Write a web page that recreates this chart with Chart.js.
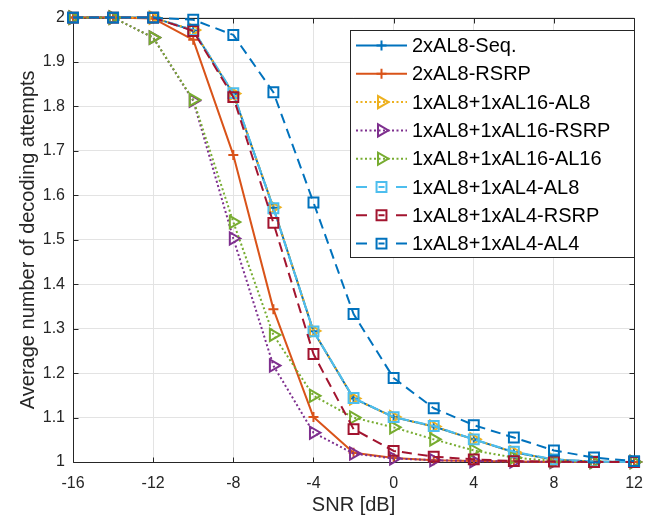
<!DOCTYPE html>
<html>
<head>
<meta charset="utf-8">
<script src="https://cdn.jsdelivr.net/npm/chart.js@4/dist/chart.umd.min.js"></script>
<style>
  html, body { margin: 0; padding: 0; background: #ffffff; }
  #wrap { width: 655px; height: 520px; }
</style>
</head>
<body>
<div id="wrap"><canvas id="c" width="655" height="520"></canvas></div>
<script>
// SNR grid (dB) and average decoding attempts per scheme
const snr = [-16, -14, -12, -10, -8, -6, -4, -2, 0, 2, 4, 6, 8, 10, 12];

const al8Seq      = [2, 2, 2,     1.971, 1.828, 1.572, 1.294, 1.143, 1.101, 1.080, 1.051, 1.022, 1.005, 1.001, 1.000];
const al8Rsrp     = [2, 2, 1.998, 1.950, 1.691, 1.344, 1.101, 1.021, 1.009, 1.004, 1.002, 1.001, 1.000, 1.000, 1.000];
const al16Al8     = [2, 2, 2,     1.972, 1.829, 1.573, 1.295, 1.143, 1.101, 1.080, 1.051, 1.022, 1.005, 1.001, 1.000];
const al16Rsrp    = [2, 2, 1.955, 1.813, 1.503, 1.217, 1.066, 1.019, 1.008, 1.004, 1.002, 1.001, 1.000, 1.000, 1.000];
const al16Al16    = [2, 2, 1.955, 1.815, 1.540, 1.286, 1.149, 1.100, 1.078, 1.051, 1.026, 1.010, 1.002, 1.000, 1.000];
const al4Al8      = [2, 2, 2,     1.972, 1.830, 1.571, 1.294, 1.144, 1.101, 1.081, 1.051, 1.023, 1.006, 1.001, 1.000];
const al4Rsrp     = [2, 2, 2,     1.970, 1.821, 1.538, 1.243, 1.074, 1.025, 1.012, 1.006, 1.002, 1.001, 1.000, 1.000];
const al4Al4      = [2, 2, 2,     1.995, 1.961, 1.832, 1.584, 1.333, 1.189, 1.121, 1.083, 1.055, 1.026, 1.010, 1.002];

const seriesNames = [
  '2xAL8-Seq.', '2xAL8-RSRP',
  '1xAL8+1xAL16-AL8', '1xAL8+1xAL16-RSRP', '1xAL8+1xAL16-AL16',
  '1xAL8+1xAL4-AL8', '1xAL8+1xAL4-RSRP', '1xAL8+1xAL4-AL4'
];
const seriesValues = [al8Seq, al8Rsrp, al16Al8, al16Rsrp, al16Al16, al4Al8, al4Rsrp, al4Al4];

const xTicks = { min: -16, max: 12, step: 4 };
const yTicks = { min: 1, max: 2, step: 0.1 };

// line styles
const SOLID = [], DOTTED = [2, 2.5], DASHED = [10, 6];
const styles = [
  { color: '#0072BD', dash: SOLID,  marker: 'cross',    radius: 5, rot: 0 },
  { color: '#D95319', dash: SOLID,  marker: 'cross',    radius: 5, rot: 0 },
  { color: '#EDB120', dash: DOTTED, marker: 'triangle', radius: 7, rot: 90 },
  { color: '#7E2F8E', dash: DOTTED, marker: 'triangle', radius: 7, rot: 90 },
  { color: '#77AC30', dash: DOTTED, marker: 'triangle', radius: 7, rot: 90 },
  { color: '#4DBEEE', dash: DASHED, marker: 'rect',     radius: 7, rot: 0 },
  { color: '#A2142F', dash: DASHED, marker: 'rect',     radius: 7, rot: 0 },
  { color: '#0072BD', dash: DASHED, marker: 'rect',     radius: 7, rot: 0 }
];

const N = seriesNames.length;
const datasets = seriesNames.map((name, i) => ({
  label: name,
  data: snr.map((x, k) => ({ x: x, y: seriesValues[i][k] })),
  borderColor: styles[i].color,
  backgroundColor: 'rgba(0,0,0,0)',
  borderWidth: 2,
  borderDash: styles[i].dash,
  pointStyle: styles[i].marker,
  pointRadius: styles[i].radius,
  pointRotation: styles[i].rot,
  pointBorderColor: styles[i].color,
  pointBackgroundColor: 'rgba(0,0,0,0)',
  pointBorderWidth: 2,
  pointHoverRadius: styles[i].radius,
  tension: 0,
  fill: false,
  clip: false,
  order: N - i   // later series drawn on top
}));

const AXIS = '#262626';
const FONT = '"Liberation Sans", Arial, Helvetica, sans-serif';

// axis box with inward tick marks, drawn under the data
const boxPlugin = {
  id: 'axisBox',
  beforeDatasetsDraw(chart) {
    const { ctx, chartArea: a, scales } = chart;
    ctx.save();
    ctx.strokeStyle = AXIS;
    ctx.lineWidth = 1;
    ctx.setLineDash([]);
    const L = Math.round(a.left) + 0.5, R = Math.round(a.right) + 0.5;
    const T = Math.round(a.top) + 0.5, B = Math.round(a.bottom) + 0.5;
    ctx.beginPath();
    ctx.rect(L, T, R - L, B - T);
    const tl = 5;
    scales.x.ticks.forEach(t => {
      const px = Math.round(scales.x.getPixelForValue(t.value)) + 0.5;
      ctx.moveTo(px, B); ctx.lineTo(px, B - tl);
      ctx.moveTo(px, T); ctx.lineTo(px, T + tl);
    });
    scales.y.ticks.forEach(t => {
      const py = Math.round(scales.y.getPixelForValue(t.value)) + 0.5;
      ctx.moveTo(L, py); ctx.lineTo(L + tl, py);
      ctx.moveTo(R, py); ctx.lineTo(R - tl, py);
    });
    ctx.stroke();
    ctx.restore();
  }
};

function drawMarker(ctx, st, x, y) {
  const h = Chart.helpers;
  if (h && typeof h.drawPoint === 'function') {
    h.drawPoint(ctx, { pointStyle: st.marker, radius: st.radius, rotation: st.rot, borderWidth: 2 }, x, y);
    return;
  }
  ctx.beginPath();
  ctx.arc(x, y, st.radius * 0.7, 0, Math.PI * 2);
  ctx.stroke();
}

// boxed legend in the upper right
const legendPlugin = {
  id: 'boxLegend',
  afterDraw(chart) {
    const { ctx } = chart;
    const bx = 350.5, by = 30.5, bw = 284, bh = 227;
    const rowY0 = 45.5, rowStep = 28.3;
    const lx0 = 356, lx1 = 407, mx = 381.5, tx = 412;
    ctx.save();
    ctx.fillStyle = '#ffffff';
    ctx.fillRect(bx, by, bw, bh);
    ctx.strokeStyle = AXIS;
    ctx.lineWidth = 1;
    ctx.setLineDash([]);
    ctx.strokeRect(bx, by, bw, bh);
    chart.data.datasets.forEach((ds, i) => {
      const st = styles[i];
      const y = rowY0 + i * rowStep;
      ctx.strokeStyle = st.color;
      ctx.lineWidth = 2;
      if (st.dash === DASHED) {
        ctx.setLineDash([]);
        ctx.beginPath();
        ctx.moveTo(lx0, y); ctx.lineTo(lx0 + 11, y);
        ctx.moveTo(mx - 3, y); ctx.lineTo(mx + 3, y);
        ctx.moveTo(lx1 - 11, y); ctx.lineTo(lx1, y);
        ctx.stroke();
      } else {
        ctx.setLineDash(st.dash);
        ctx.beginPath();
        ctx.moveTo(lx0, y); ctx.lineTo(lx1, y);
        ctx.stroke();
      }
      ctx.setLineDash([]);
      ctx.strokeStyle = st.color;
      ctx.fillStyle = 'rgba(0,0,0,0)';
      ctx.lineWidth = 2;
      drawMarker(ctx, st, mx, y);
      ctx.fillStyle = '#000000';
      ctx.font = '20px ' + FONT;
      ctx.textAlign = 'left';
      ctx.textBaseline = 'middle';
      ctx.fillText(ds.label, tx, y + 1);
    });
    ctx.restore();
  }
};

new Chart(document.getElementById('c'), {
  type: 'line',
  data: { datasets: datasets },
  options: {
    responsive: false,
    animation: false,
    devicePixelRatio: 1,
    layout: { padding: { left: 0, top: 15, right: 19, bottom: 0 } },
    plugins: { legend: { display: false }, tooltip: { enabled: false } },
    elements: { line: { borderJoinStyle: 'round' } },
    scales: {
      x: {
        type: 'linear',
        min: xTicks.min, max: xTicks.max,
        afterFit(s) { s.height = 58; },
        ticks: {
          stepSize: xTicks.step,
          color: AXIS,
          font: { family: FONT, size: 16 },
          padding: 12,
          maxRotation: 0,
          autoSkip: false
        },
        grid: { color: '#e3e3e3', lineWidth: 1, drawTicks: false },
        border: { display: false },
        title: {
          display: true, text: 'SNR [dB]', color: AXIS,
          font: { family: FONT, size: 20 },
          padding: { top: 0, bottom: 3 }
        }
      },
      y: {
        type: 'linear',
        min: yTicks.min, max: yTicks.max,
        afterFit(s) { s.width = 73; },
        ticks: {
          stepSize: yTicks.step,
          color: AXIS,
          font: { family: FONT, size: 16 },
          padding: 8,
          autoSkip: false,
          callback: v => String(Number(v.toFixed(1)))
        },
        grid: { color: '#e3e3e3', lineWidth: 1, drawTicks: false },
        border: { display: false },
        title: {
          display: true, text: 'Average number of decoding attempts', color: AXIS,
          font: { family: FONT, size: 20 },
          padding: { top: 16, bottom: 0 }
        }
      }
    }
  },
  plugins: [boxPlugin, legendPlugin]
});
</script>
</body>
</html>
